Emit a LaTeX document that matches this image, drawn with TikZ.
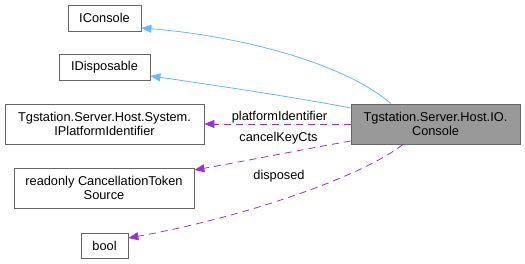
\documentclass[tikz,border=0pt]{standalone}
\usepackage{fontspec}
\setmainfont{Liberation Sans}
\usetikzlibrary{arrows.meta}
\definecolor{inhblue}{HTML}{63B8FF}
\definecolor{usepurple}{HTML}{9A32CD}
\definecolor{boxedge}{HTML}{666666}
\definecolor{boxfill}{HTML}{999999}
\begin{document}
\begin{tikzpicture}[x=1pt,y=-1pt,
  cls/.style={draw=boxedge,fill=white,line width=0.8pt,inner sep=0pt,align=center,
    font=\fontsize{12.8}{14}\selectfont},
  inh/.style={draw=inhblue,line width=0.8pt,-{Triangle[length=10pt,width=8pt,fill=inhblue]}},
  use/.style={draw=usepurple,line width=0.8pt,dash pattern=on 7pt off 5pt,
    -{Triangle[length=10pt,width=8pt,fill=usepurple]}},
  lbl/.style={font=\fontsize{12.8}{14}\selectfont,inner sep=0pt}]
\useasboundingbox (0,0) rectangle (525,264);

\node[cls,minimum width=73pt,minimum height=26pt] (iconsole) at (104.5,18) {IConsole};
\node[cls,minimum width=91pt,minimum height=26pt] (idisp) at (104.5,67) {IDisposable};
\node[cls,minimum width=199pt,minimum height=40pt] (platform) at (104.5,124)
  {Tgstation.Server.Host.System.\\IPlatformIdentifier};
\node[cls,minimum width=180pt,minimum height=40pt] (cancel) at (104,188)
  {readonly CancellationToken\\Source};
\node[cls,minimum width=47pt,minimum height=25pt] (bool) at (104.5,245.5) {bool};
\node[cls,fill=boxfill,minimum width=169pt,minimum height=40pt] (console) at (435.5,124)
  {Tgstation.Server.Host.IO.\\Console};

% inheritance
\draw[inh] ([xshift=-44.5pt]console.north) .. controls (340,60) and (230,35) .. ([yshift=-10pt]iconsole.east);
\draw[inh] ([yshift=16pt]console.west) .. controls (300,98) and (200,83) .. ([yshift=-9pt]idisp.east);

% members
\draw[use] (console.west) -- (platform.east);
\node[lbl] (lplat) at (279.5,117) {platformIdentifier};
\draw[use] ([yshift=-17pt]console.west) .. controls (300,150) and (240,162) .. ([yshift=18pt]cancel.east);
\node[lbl] (lcancel) at (278.5,138) {cancelKeyCts};
\draw[use] ([xshift=-32.5pt]console.south) .. controls (360,178) and (240,218) .. ([yshift=7.5pt]bool.east);
\node[lbl] (ldisp) at (279,176) {disposed};
\end{tikzpicture}
\end{document}
